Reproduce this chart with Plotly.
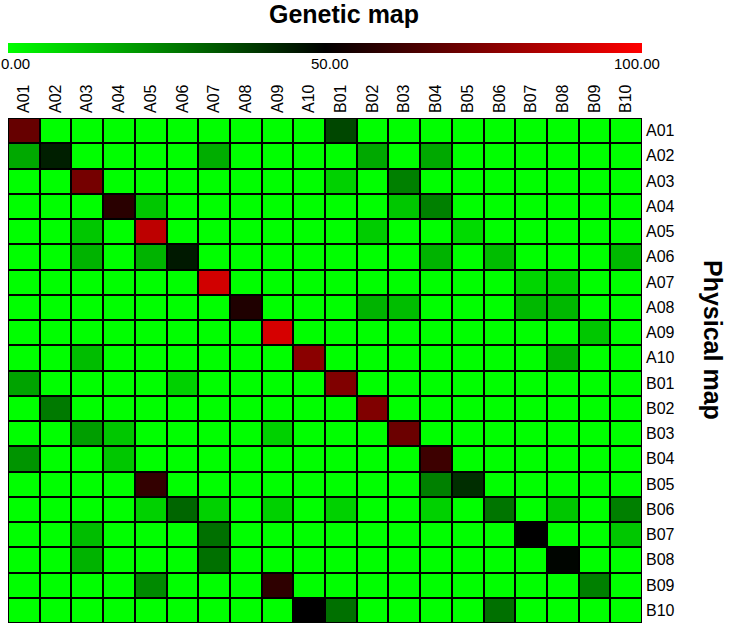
import plotly.graph_objects as go

labels = ["A01", "A02", "A03", "A04", "A05", "A06", "A07", "A08", "A09", "A10",
          "B01", "B02", "B03", "B04", "B05", "B06", "B07", "B08", "B09", "B10"]

#            A01 A02 A03 A04 A05 A06 A07 A08 A09 A10 B01 B02 B03 B04 B05 B06 B07 B08 B09 B10
row_A01 = [70,  0,  0,  0,  0,  0,  0,  0,  0,  0, 36,  0,  0,  0,  0,  0,  0,  0,  0,  0]
row_A02 = [17, 44,  0,  0,  0,  0, 16,  0,  0,  0,  0, 17,  0, 17,  0,  0,  0,  0,  0,  0]
row_A03 = [ 0,  0, 73,  0,  0,  0,  0,  0,  0,  0,  9,  0, 25,  0,  0,  0,  0,  0,  0,  0]
row_A04 = [ 0,  0,  0, 58, 11,  0,  0,  0,  0,  0,  0,  0, 11, 25,  0,  0,  0,  0,  0,  0]
row_A05 = [ 0,  0, 11,  0, 87,  0,  0,  0,  0,  0,  0, 10,  0,  0,  7,  0,  0,  0,  0,  0]
row_A06 = [ 0,  0, 15,  0, 15, 45,  0,  0,  0,  0,  0,  0,  0, 15,  0, 13,  0,  0,  0, 14]
row_A07 = [ 0,  0,  0,  0,  0,  0, 91,  0,  0,  0,  0,  0,  0,  0,  0,  0,  8,  9,  0,  0]
row_A08 = [ 0,  0,  0,  0,  0,  0,  0, 56,  0,  0,  0, 15, 13,  0,  0,  0, 14, 14,  0,  0]
row_A09 = [ 0,  0,  0,  0,  0,  0,  0,  0, 92,  0,  0,  0,  0,  0,  0,  0,  0,  0, 11,  0]
row_A10 = [ 0,  0, 13,  0,  0,  0,  0,  0,  0, 77,  0,  0,  0,  0,  0,  0,  0, 15,  0,  0]
row_B01 = [18,  0,  0,  0,  0,  9,  0,  0,  0,  0, 75,  0,  0,  0,  0,  0,  0,  0,  0,  0]
row_B02 = [ 0, 26,  0,  0,  0,  0,  0,  0,  0,  0,  0, 75,  0,  0,  0,  0,  0,  0,  0,  0]
row_B03 = [ 0,  0, 19, 11,  0,  0,  0,  0,  9,  0,  0,  0, 71,  0,  0,  0,  0,  0,  0,  0]
row_B04 = [21,  0,  0, 11,  0,  0,  0,  0,  0,  0,  0,  0,  0, 62,  0,  0,  0,  0,  0,  0]
row_B05 = [ 0,  0,  0,  0, 60,  0,  0,  0,  0,  0,  0,  0,  0, 25, 41,  0,  0,  0,  0,  0]
row_B06 = [ 0,  0,  0,  0,  9, 30,  9,  0,  9,  0,  9,  0,  0,  9,  0, 27,  0, 11,  0, 25]
row_B07 = [ 0,  0, 13,  0,  0,  0, 28,  0,  0,  0,  0,  0,  0,  0,  0,  0, 50,  0,  0, 11]
row_B08 = [ 0,  0, 15,  0,  0,  0, 28,  0,  0,  0,  0,  0,  0,  0,  0,  0,  0, 49,  0,  0]
row_B09 = [ 0,  0,  0,  0, 23,  0,  0,  0, 59,  0,  0,  0,  0,  0,  0,  0,  0,  0, 25,  0]
row_B10 = [ 0,  0,  0,  0,  0,  0,  0,  0,  0, 50, 28,  0,  0,  0,  0, 28,  0,  0,  0,  0]

z = [row_A01, row_A02, row_A03, row_A04, row_A05, row_A06, row_A07, row_A08, row_A09, row_A10,
     row_B01, row_B02, row_B03, row_B04, row_B05, row_B06, row_B07, row_B08, row_B09, row_B10]

cbar_ticks = [0, 50, 100]
cbar_ticktext = ["0.00", "50.00", "100.00"]

FONT = "Liberation Sans, Arial, sans-serif"

fig = go.Figure(go.Heatmap(
    z=z, x=labels, y=labels,
    zmin=0, zmax=100,
    colorscale=[[0, "rgb(0,255,0)"], [0.5, "rgb(0,0,0)"], [1, "rgb(255,0,0)"]],
    xgap=2, ygap=2,
    colorbar=dict(
        orientation="h",
        x=0.5, xanchor="center", xref="paper",
        y=1.1386, yanchor="middle", yref="paper",
        len=1, lenmode="fraction",
        thickness=10, thicknessmode="pixels",
        xpad=0, ypad=0,
        outlinewidth=0,
        ticks="", showticklabels=False,
    ),
))

annotations = []
for val, txt, xpx in zip(cbar_ticks, cbar_ticktext, [15, 329.5, 637]):
    annotations.append(dict(
        x=(xpx - 8) / 634, y=(623 - 63.5) / 505, xref="paper", yref="paper",
        text=txt, showarrow=False, xanchor="center", yanchor="middle",
        font=dict(family=FONT, size=15, color="black")))

annotations.append(dict(
    x=(343.5 - 8) / 634, y=(623 - 14) / 505, xref="paper", yref="paper",
    text="<b>Genetic map</b>", showarrow=False, xanchor="center", yanchor="middle",
    font=dict(family=FONT, size=25, color="black")))

annotations.append(dict(
    x=(713 - 8) / 634, y=(623 - 340) / 505, xref="paper", yref="paper",
    text="<b>Physical map</b>", showarrow=False, textangle=90,
    xanchor="center", yanchor="middle",
    font=dict(family=FONT, size=25, color="black")))

fig.update_layout(
    width=730, height=626,
    margin=dict(l=8, r=88, t=118, b=3, autoexpand=False),
    paper_bgcolor="white",
    plot_bgcolor="black",
    annotations=annotations,
    xaxis=dict(side="top", tickangle=-90, showgrid=False, zeroline=False,
               ticks="", tickfont=dict(family=FONT, size=16, color="black"),
               ticklabelstandoff=4),
    yaxis=dict(side="right", autorange="reversed", showgrid=False, zeroline=False,
               ticks="", tickfont=dict(family=FONT, size=16, color="black"),
               ticklabelstandoff=3),
)

fig.write_html("out.html", config={"displayModeBar": False},
               post_script="document.body.style.margin='0';document.body.style.overflow='hidden';")
